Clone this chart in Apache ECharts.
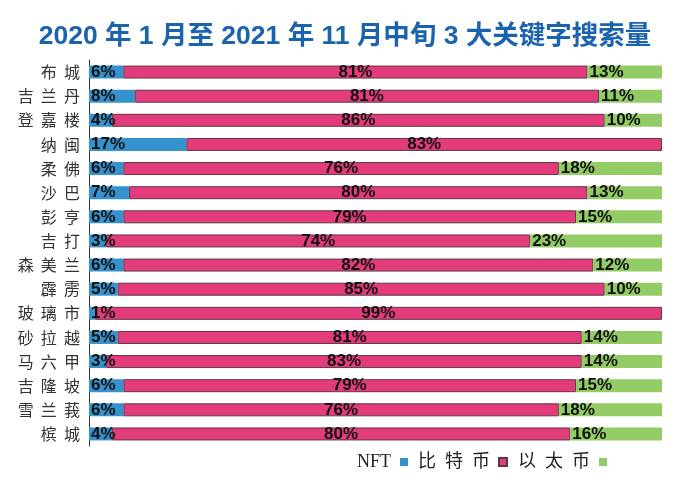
<!DOCTYPE html>
<html><head><meta charset="utf-8">
<script src="https://cdn.jsdelivr.net/npm/echarts@6/dist/echarts.min.js"></script>
<style>html,body{margin:0;padding:0;background:#fff}#c{width:690px;height:489px}</style>
</head><body><div id="c"></div>
<script>
const categories = ['布城','吉兰丹','登嘉楼','纳闽','柔佛','沙巴','彭亨','吉打','森美兰','霹雳','玻璃市','砂拉越','马六甲','吉隆坡','雪兰莪','槟城'];
const nft = [6,8,4,17,6,7,6,3,6,5,1,5,3,6,6,4];
const bitcoin = [81,81,86,83,76,80,79,74,82,85,99,81,83,79,76,80];
const ether = [13,11,10,0,18,13,15,23,12,10,0,14,14,15,18,16];
const seriesNames = ['NFT','比特币','以太币'];

const chart = echarts.init(document.getElementById('c'));
const labelStyle = {fontFamily:'Liberation Sans, Arial', fontWeight:'bold', fontSize:17, color:'#111',
  formatter: p => p.value > 0 ? p.value + '%' : ''};
chart.setOption({
  animation:false,
  title:{text:'2020 年 1 月至 2021 年 11 月中旬 3 大关键字搜索量', left:'center', top:18,
    textStyle:{color:'#1c63ad', fontSize:26.5, fontWeight:'bold', fontFamily:'Liberation Sans, Noto Sans CJK SC'}},
  legend:{data:seriesNames, right:78, bottom:13, align:'right', itemWidth:8, itemHeight:8, itemGap:10,
    icon:'rect', formatter: n => /^[A-Z]+$/.test(n) ? n : n.split('').join('  '),
    textStyle:{fontSize:18, color:'#222', fontFamily:'Liberation Serif, Noto Sans CJK SC', padding:[0,4,0,0]}},
  grid:{left:89, right:28, top:60, bottom:43, containLabel:false},
  xAxis:{type:'value', min:0, max:100, show:false},
  yAxis:{type:'category', data:categories, inverse:true,
    axisLine:{show:true, lineStyle:{color:'#333', width:1}}, axisTick:{show:false},
    axisLabel:{margin:9, fontSize:16, color:'#333', fontFamily:'Noto Sans CJK SC',
      formatter: v => v.split('').join('  ')}},
  series:[
    {name:seriesNames[0], type:'bar', stack:'a', data:nft, barWidth:13,
      itemStyle:{color:'#3592cc'}, label:Object.assign({show:true, position:'insideLeft', distance:2}, labelStyle)},
    {name:seriesNames[1], type:'bar', stack:'a', data:bitcoin, barWidth:13,
      itemStyle:{color:'#e33b7b', borderColor:'#5a3a48', borderWidth:1}, label:Object.assign({show:true, position:'inside'}, labelStyle)},
    {name:seriesNames[2], type:'bar', stack:'a', data:ether, barWidth:13,
      itemStyle:{color:'#93cb64'}, label:Object.assign({show:true, position:'insideLeft', distance:2}, labelStyle)}
  ]
});
</script></body></html>
